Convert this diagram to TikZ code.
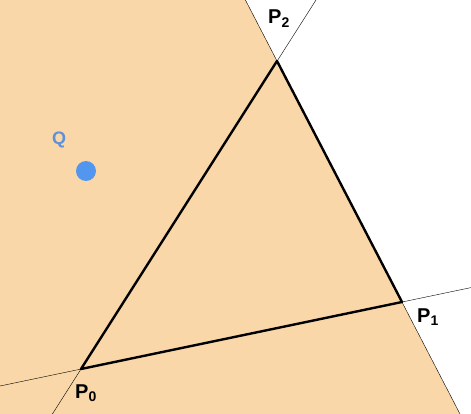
\documentclass[tikz,border=0pt]{standalone}
\usepackage{fontspec}
\setmainfont{Liberation Sans}
\usetikzlibrary{calc}
\definecolor{half}{RGB}{250,215,168}
\definecolor{qblue}{RGB}{95,145,215}
\definecolor{dotblue}{RGB}{82,150,240}
\definecolor{thin}{RGB}{110,110,110}
\tikzset{
  edge/.style={line width=2.4pt,black,line cap=round,line join=round},
  ext/.style={line width=0.9pt,thin},
  plabel/.style={inner sep=0pt,anchor=base west,font=\fontsize{20}{24}\selectfont\bfseries},
}
\begin{document}
\begin{tikzpicture}[x=1pt,y=-1pt]
\useasboundingbox (0,0) rectangle (471,414);
\coordinate (P0) at (81,369);
\coordinate (P1) at (402,302);
\coordinate (P2) at (277,61);
\coordinate (L12top) at (245.4,0);
\coordinate (L12bot) at (460,414);
\coordinate (L02top) at (316,0);
\coordinate (L02bot) at (52.4,414);
\coordinate (L01left) at (0,386);
\coordinate (L01right) at (471,287.6);
\fill[half] (0,0) -- (L12top) -- (L12bot) -- (0,414) -- cycle;
\draw[ext] (L12top) -- (L12bot);
\draw[ext] (L02top) -- (L02bot);
\draw[ext] (L01left) -- (L01right);
\draw[edge] (P0) -- (P1) -- (P2) -- cycle;
\node[plabel] (l2) at (268,24) {P\textsubscript{2}};
\node[plabel] (l1) at (417,322) {P\textsubscript{1}};
\node[plabel] (l0) at (75,398) {P\textsubscript{0}};
\node[inner sep=0pt,anchor=base west,font=\fontsize{18}{22}\selectfont\bfseries,text=qblue] (q) at (52,145) {Q};
\fill[dotblue] (86,171) circle (10);
\node[inner sep=0pt,minimum size=0pt] (Q) at (86,171) {};
\end{tikzpicture}
\end{document}
